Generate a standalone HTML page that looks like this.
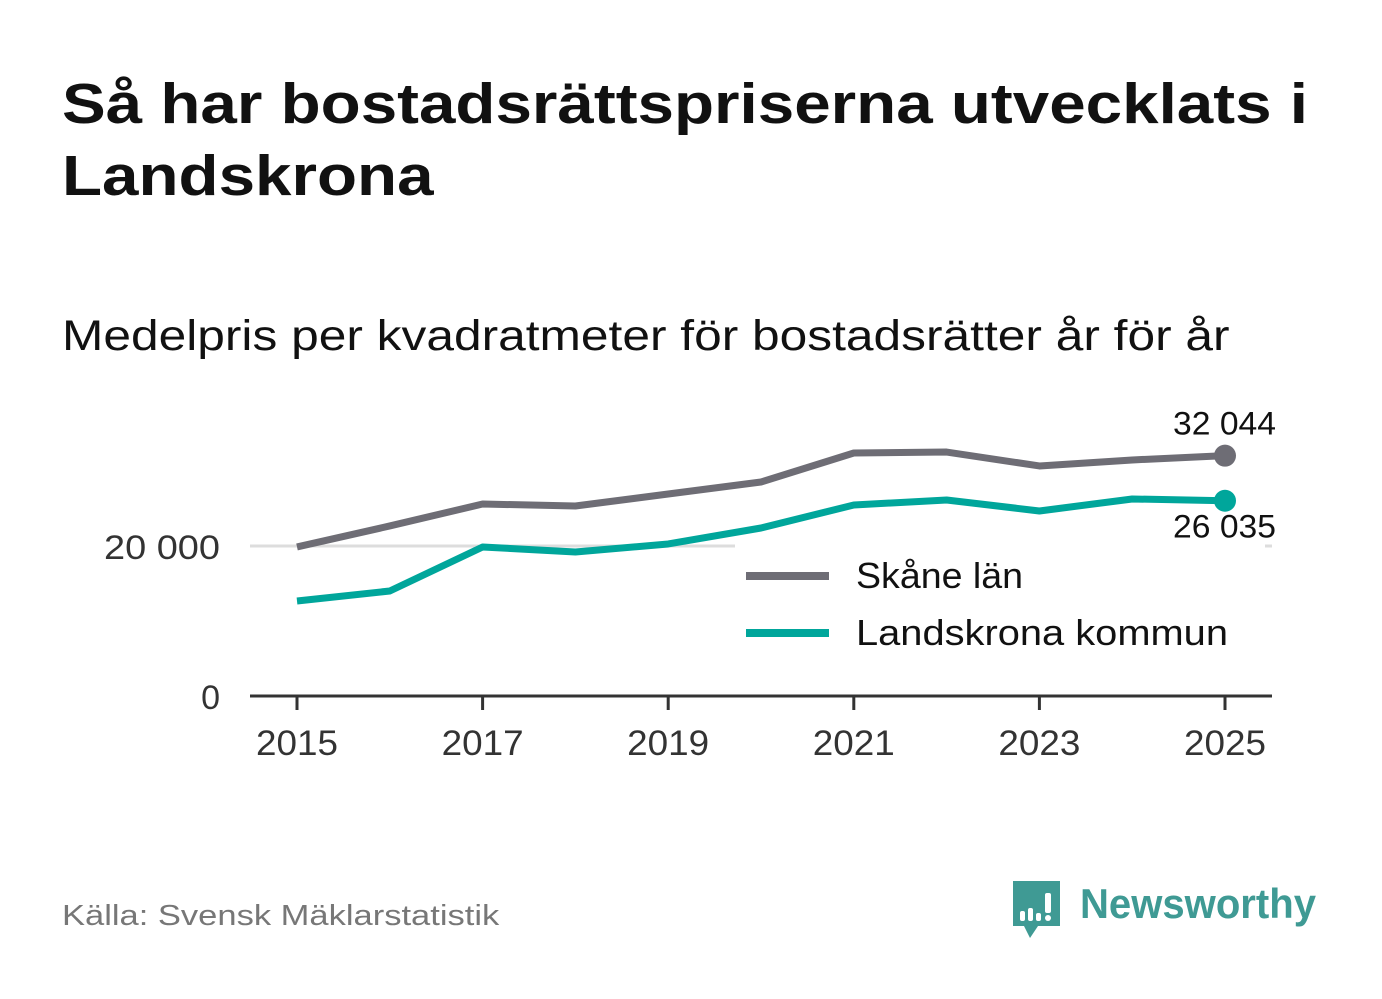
<!DOCTYPE html>
<html><head><meta charset="utf-8"><style>
body{margin:0;background:#fff;width:1382px;height:999px;overflow:hidden;font-family:"Liberation Sans",sans-serif}
.t{position:absolute;left:62px;top:68px;font-size:57px;font-weight:bold;color:#111;line-height:72px;margin:0;transform:scaleX(1.15);transform-origin:0 0;white-space:nowrap}
.s{position:absolute;left:62px;top:312px;font-size:43px;color:#111;transform:scaleX(1.155);transform-origin:0 0;white-space:nowrap}
.src{position:absolute;left:62px;top:900px;font-size:29px;color:#777;transform:scaleX(1.19);transform-origin:0 0;white-space:nowrap}
</style></head><body>
<h1 class="t">Så har bostadsrättspriserna utvecklats i<br>Landskrona</h1>
<div class="s">Medelpris per kvadratmeter för bostadsrätter år för år</div>
<div class="src">Källa: Svensk Mäklarstatistik</div>
<svg id="logo" style="position:absolute;left:1010px;top:878px" width="320" height="64">
<path d="M3 3h47v45H28l-8 12-6-12H3z" fill="#3f9a94"/>
<rect x="10" y="33" width="5" height="10" rx="2" fill="#fff"/><rect x="18" y="30" width="5" height="13" rx="2" fill="#fff"/><rect x="26" y="35" width="5" height="8" rx="2" fill="#fff"/><rect x="35" y="15" width="6" height="20" rx="2" fill="#fff"/><circle cx="38" cy="40" r="3" fill="#fff"/>
<text x="70" y="40" font-size="42" font-weight="bold" fill="#3f9a94" textLength="236" lengthAdjust="spacingAndGlyphs" font-family="Liberation Sans, sans-serif">Newsworthy</text>
</svg>
<svg id="chart" width="1382" height="999" style="position:absolute;left:0;top:0"></svg>
<script>
const years=[2015,2016,2017,2018,2019,2020,2021,2022,2023,2024,2025];
const skane=[19870,22670,25600,25330,26930,28530,32400,32530,30670,31470,32044];
const landskrona=[12670,14000,19870,19200,20270,22400,25470,26130,24670,26270,26035];
const yTicks=[0,20000];
const yTickLabels=["0","20 000"];
const xTicks=[2015,2017,2019,2021,2023,2025];
const NS="http://www.w3.org/2000/svg";
const svg=document.getElementById('chart');
const X=y=>297+(y-2015)*92.8;
const Y=v=>696-v*0.0075;
function mk(t,a,txt){const e=document.createElementNS(NS,t);for(const k in a)e.setAttribute(k,a[k]);if(txt!==undefined)e.textContent=txt;svg.appendChild(e);return e;}
yTicks.forEach((v,i)=>{
 if(v>0){const g=mk('line',{x1:250,x2:1272,y1:Y(v),y2:Y(v),stroke:'#ddd','stroke-width':3});
 
 }
 const a={x:220,y:Y(v)+13,'text-anchor':'end','font-size':34,fill:'#333'};
 if(v>0){a.textLength=116;a.lengthAdjust='spacingAndGlyphs';}
 const t=mk('text',a,yTickLabels[i]);
 
 
});
const bg=mk('rect',{x:735,y:Y(20000)-3,width:530,height:6,fill:'#fff'});


const ax=mk('line',{x1:250,x2:1272,y1:696,y2:696,stroke:'#333','stroke-width':3});


xTicks.forEach(yr=>{
 const l=mk('line',{x1:X(yr),x2:X(yr),y1:696,y2:710,stroke:'#333','stroke-width':3});
 
 
 const t=mk('text',{x:X(yr),y:755,'text-anchor':'middle','font-size':35,fill:'#333',textLength:82,lengthAdjust:'spacingAndGlyphs'},yr);
 
 
});
function series(vals,col,name){
 const p=mk('polyline',{points:vals.map((v,i)=>X(years[i])+','+Y(v)).join(' '),fill:'none',stroke:col,'stroke-width':7,'stroke-linejoin':'round'});
 
 
 const n=vals.length-1;
 const c=mk('circle',{cx:X(years[n]),cy:Y(vals[n]),r:11,fill:col});
 
 
}
series(skane,'#6e6d75','skane');
series(landskrona,'#00a69b','landskrona');
const fmt=v=>String(v).replace(/\B(?=(\d{3})+(?!\d))/g,' ');
const l1=mk('text',{x:1276,y:Y(skane[10])-21,'text-anchor':'end','font-size':32,fill:'#111',textLength:103,lengthAdjust:'spacingAndGlyphs'},fmt(skane[10]));


const l2=mk('text',{x:1276,y:Y(landskrona[10])+37,'text-anchor':'end','font-size':32,fill:'#111',textLength:103,lengthAdjust:'spacingAndGlyphs'},fmt(landskrona[10]));


[['Skåne län','#6e6d75',576,167],['Landskrona kommun','#00a69b',633,372]].forEach(([n,c,y,w])=>{
 const l=mk('line',{x1:746,x2:829,y1:y,y2:y,stroke:c,'stroke-width':8});
 
 
 const t=mk('text',{x:856,y:y+12,'font-size':36,fill:'#111',textLength:w,lengthAdjust:'spacingAndGlyphs'},n);
 
 
});
</script>
</body></html>
